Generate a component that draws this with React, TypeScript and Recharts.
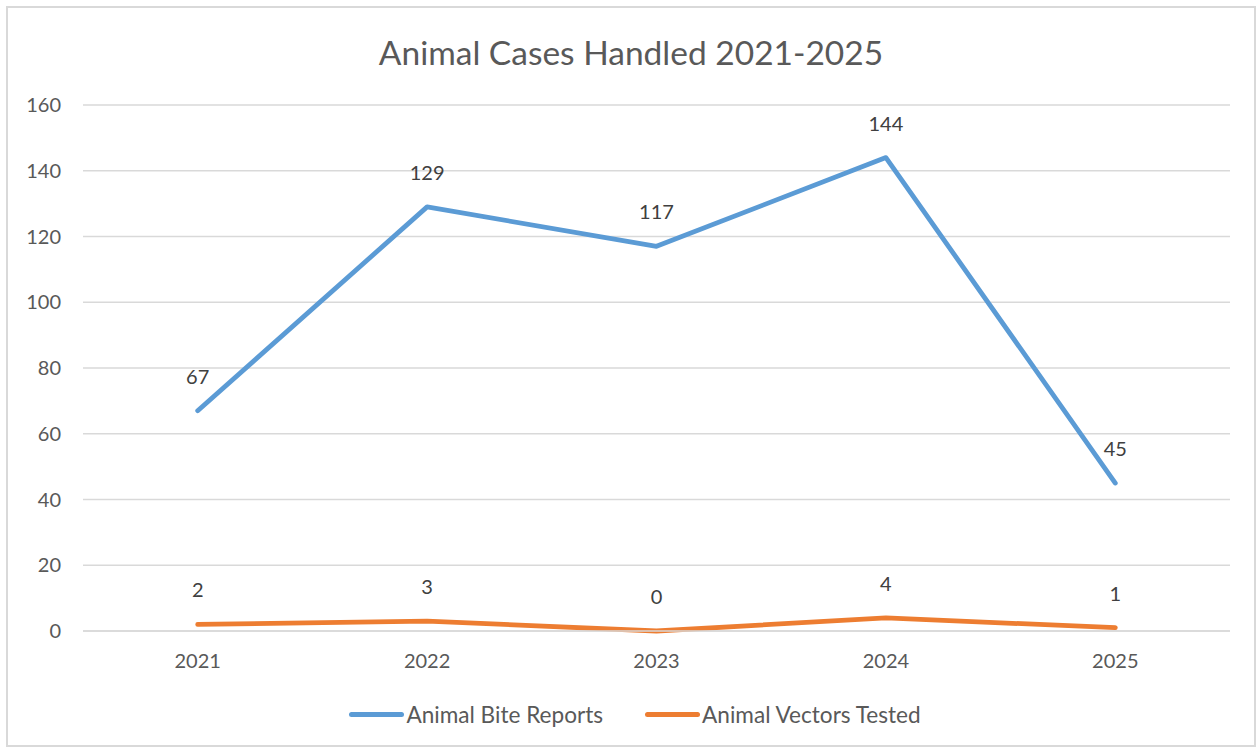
import React from 'react';
import { LineChart, Line, XAxis, YAxis, CartesianGrid, Legend, LabelList } from 'recharts';

const years = ['2021', '2022', '2023', '2024', '2025'];
const biteReports = [67, 129, 117, 144, 45];
const vectorsTested = [2, 3, 0, 4, 1];
const yTicks = [0, 20, 40, 60, 80, 100, 120, 140, 160];
const seriesNames = ['Animal Bite Reports', 'Animal Vectors Tested'];
const colors = ['#5B9BD5', '#ED7D31'];

const data = years.map((y, i) => ({ year: y, bite: biteReports[i], vectors: vectorsTested[i] }));

const FONT = 'Lato, "Open Sans", sans-serif';

const DataLabel = (props: any) => {
  const { x, y, value } = props;
  return (
    <text x={x} y={y - 32} textAnchor="middle" dominantBaseline="middle" fill="#404040" fontSize={20} fontFamily={FONT}>
      {value}
    </text>
  );
};

const LegendContent = () => (
  <div style={{ display: 'flex', justifyContent: 'center', alignItems: 'center', fontFamily: FONT, fontSize: 22.6, color: '#595959', paddingLeft: 32 }}>
    {seriesNames.map((n, i) => (
      <div key={n} style={{ display: 'flex', alignItems: 'center', marginRight: i === 0 ? 42 : 0 }}>
        <div style={{ width: 55, height: 5, borderRadius: 3, background: colors[i], marginRight: 2 }} />
        <span>{n}</span>
      </div>
    ))}
  </div>
);

export default function App() {
  return (
    <div style={{ position: 'absolute', left: 6, top: 6, width: 1250, height: 741, border: '2px solid #d9d9d9', boxSizing: 'border-box', background: '#fff' }}>
      <div style={{ position: 'absolute', left: 0, right: 0, top: 24, textAlign: 'center', fontFamily: FONT, fontSize: 33.5, color: '#595959' }}>
        Animal Cases Handled 2021-2025
      </div>
      <LineChart width={1246} height={737} data={data} margin={{ top: 97, right: 24, bottom: 47, left: 0 }}>
        <CartesianGrid vertical={false} stroke="#d9d9d9" strokeWidth={1.5} />
        <XAxis
          dataKey="year"
          padding={{ left: 114.7, right: 114.7 }}
          tickLine={false}
          axisLine={{ stroke: '#d9d9d9', strokeWidth: 1.5 }}
          tick={{ fill: '#595959', fontSize: 20, fontFamily: FONT }}
          tickMargin={17}
          height={40}
        />
        <YAxis
          width={75}
          domain={[0, 160]}
          ticks={yTicks}
          tickLine={false}
          axisLine={false}
          tickSize={0}
          tickMargin={22}
          tick={{ fill: '#595959', fontSize: 20, fontFamily: FONT }}
        />
        <Legend verticalAlign="bottom" wrapperStyle={{ bottom: 17 }} content={<LegendContent />} />
        <Line
          type="linear"
          dataKey="bite"
          name={seriesNames[0]}
          stroke={colors[0]}
          strokeWidth={4.8}
          strokeLinecap="round"
          strokeLinejoin="round"
          dot={false}
          activeDot={false}
          isAnimationActive={false}
        >
          <LabelList dataKey="bite" content={<DataLabel />} />
        </Line>
        <Line
          type="linear"
          dataKey="vectors"
          name={seriesNames[1]}
          stroke={colors[1]}
          strokeWidth={4.8}
          strokeLinecap="round"
          strokeLinejoin="round"
          dot={false}
          activeDot={false}
          isAnimationActive={false}
        >
          <LabelList dataKey="vectors" content={<DataLabel />} />
        </Line>
      </LineChart>
    </div>
  );
}
